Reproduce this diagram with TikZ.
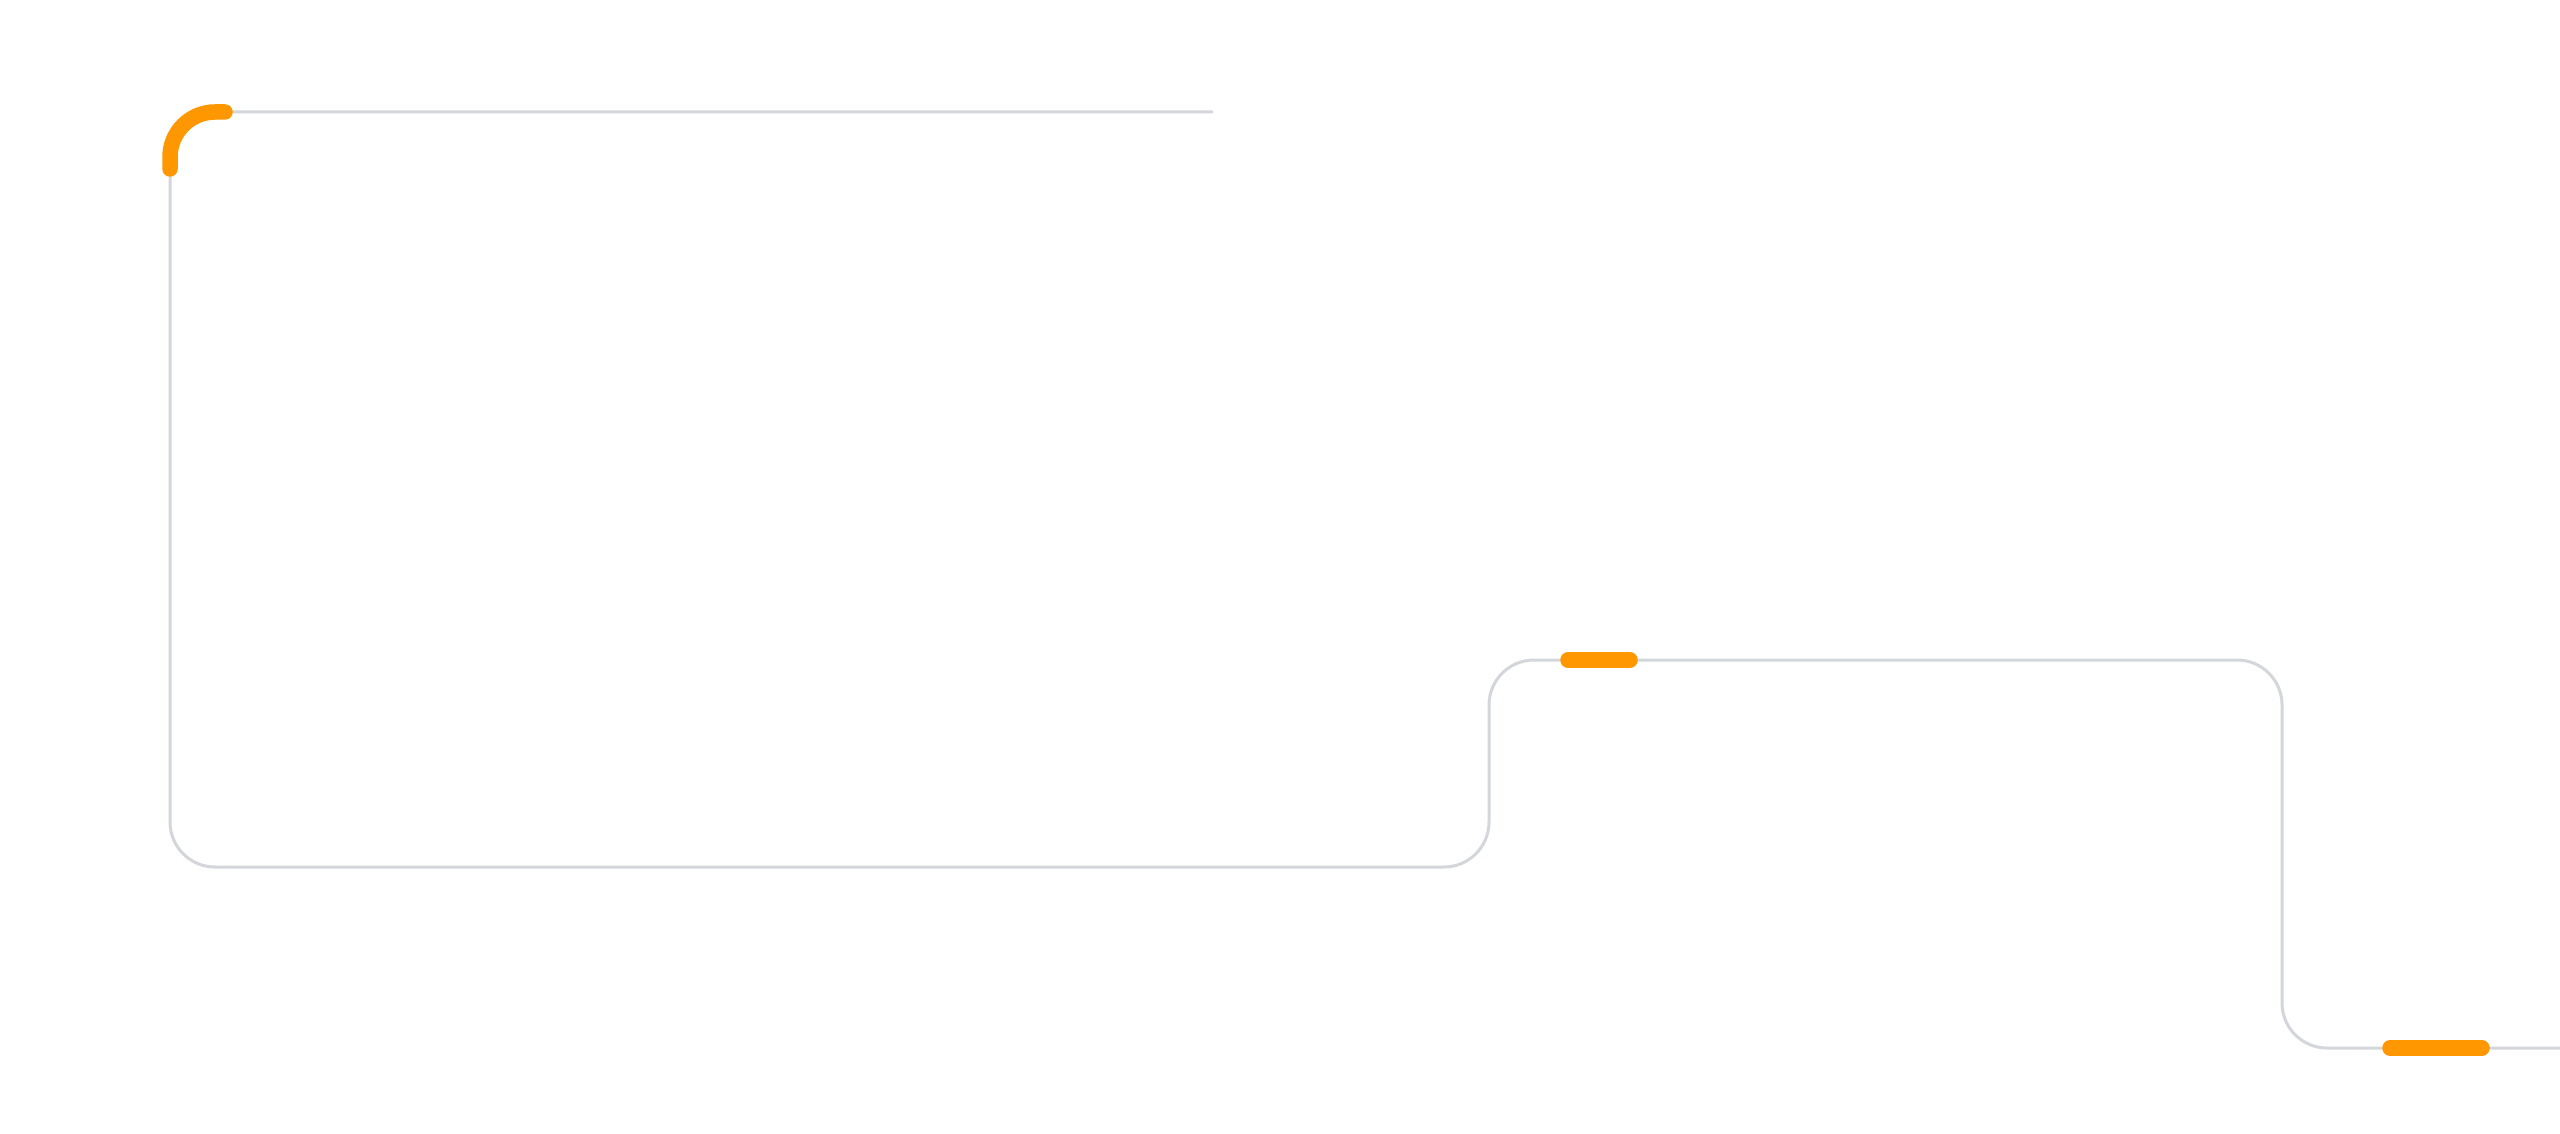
\documentclass[tikz,border=0pt]{standalone}
\definecolor{trackgray}{HTML}{D3D6DA}
\definecolor{accent}{HTML}{FF9800}
\begin{document}
\begin{tikzpicture}[x=1pt,y=-1pt,
  track/.style={draw=trackgray, line width=3pt, line cap=round, line join=round},
  hl/.style={draw=accent, line width=15.5pt, line cap=round}]
\fill[white] (0,0) rectangle (2560,1134);
\useasboundingbox (0,0) rectangle (2560,1134);
\draw[track, rounded corners=45pt]
  (1212,112) -- (170,112) -- (170,867) -- (1489,867) -- (1489,660)
  -- (2282,660) -- (2282,1048) -- (2566,1048);
\draw[hl, rounded corners=45pt] (170,169) -- (170,112) -- (225,112);
\draw[hl] (1568,660) -- (1630,660);
\draw[hl] (2390,1048) -- (2482,1048);
\end{tikzpicture}
\end{document}
